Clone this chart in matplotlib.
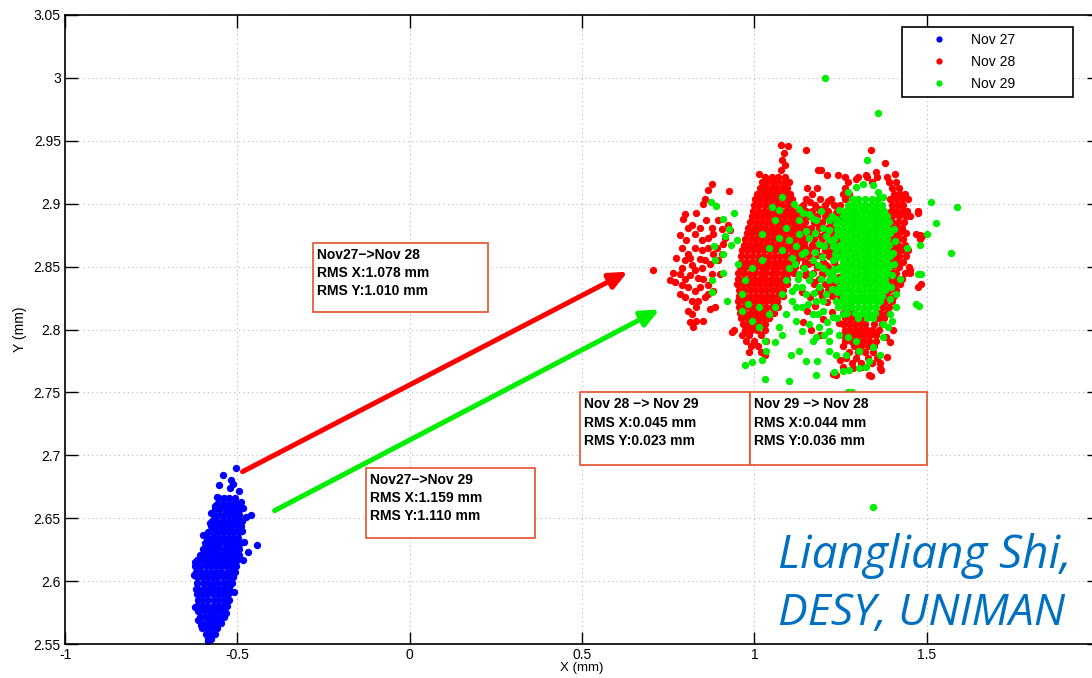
import matplotlib
matplotlib.use("Agg")
import matplotlib.pyplot as plt
from matplotlib.patches import Rectangle
from matplotlib.transforms import offset_copy
import numpy as np

plt.rcParams['font.family'] = ['Liberation Sans', 'DejaVu Sans']

# ---------------- data ----------------
x_ticks = [-1, -0.5, 0, 0.5, 1, 1.5, 2]
x_tick_labels = ['-1', '-0.5', '0', '0.5', '1', '1.5', '2']
y_ticks = [2.55, 2.6, 2.65, 2.7, 2.75, 2.8, 2.85, 2.9, 2.95, 3.0, 3.05]
y_tick_labels = ['2.55', '2.6', '2.65', '2.7', '2.75', '2.8', '2.85', '2.9', '2.95', '3', '3.05']
series_labels = ['Nov 27', 'Nov 28', 'Nov 29']
series_colors = ['#0000ff', '#ff0000', '#00ee00']

# Nov 27 : dense core as rows (y, [x...]) plus scattered points
blue_rows = [
    (2.554, [-0.585, -0.576]),
    (2.558, [-0.590, -0.577, -0.566]),
    (2.5625, [-0.603, -0.588, -0.573, -0.560]),
    (2.567, [-0.604, -0.589, -0.574, -0.559, -0.547]),
    (2.5715, [-0.609, -0.594, -0.579, -0.564, -0.549, -0.540]),
    (2.576, [-0.613, -0.598, -0.583, -0.568, -0.553, -0.538]),
    (2.5805, [-0.617, -0.602, -0.587, -0.572, -0.557, -0.543, -0.530]),
    (2.585, [-0.614, -0.599, -0.584, -0.569, -0.554, -0.539, -0.525]),
    (2.5895, [-0.617, -0.602, -0.587, -0.572, -0.557, -0.542, -0.527]),
    (2.594, [-0.613, -0.598, -0.583, -0.568, -0.553, -0.538, -0.523]),
    (2.5985, [-0.616, -0.601, -0.586, -0.571, -0.556, -0.541, -0.527, -0.515]),
    (2.603, [-0.618, -0.603, -0.588, -0.573, -0.558, -0.543, -0.528, -0.513]),
    (2.6075, [-0.621, -0.606, -0.591, -0.576, -0.561, -0.546, -0.531, -0.517, -0.506]),
    (2.612, [-0.622, -0.607, -0.592, -0.577, -0.562, -0.547, -0.532, -0.517, -0.503]),
    (2.6165, [-0.616, -0.601, -0.586, -0.571, -0.556, -0.541, -0.526, -0.512, -0.500]),
    (2.621, [-0.608, -0.593, -0.578, -0.563, -0.548, -0.533, -0.518, -0.504, -0.495]),
    (2.6255, [-0.600, -0.585, -0.570, -0.555, -0.540, -0.525, -0.510, -0.496]),
    (2.630, [-0.594, -0.579, -0.564, -0.549, -0.534, -0.519, -0.504, -0.491]),
    (2.6345, [-0.588, -0.573, -0.558, -0.543, -0.528, -0.513, -0.499]),
    (2.639, [-0.584, -0.569, -0.554, -0.539, -0.524, -0.509, -0.494]),
    (2.6435, [-0.577, -0.562, -0.547, -0.532, -0.517, -0.502, -0.489]),
    (2.648, [-0.573, -0.558, -0.543, -0.528, -0.513, -0.499, -0.487]),
    (2.6525, [-0.569, -0.554, -0.539, -0.524, -0.509, -0.494]),
    (2.657, [-0.564, -0.549, -0.534, -0.519, -0.504, -0.491]),
    (2.6615, [-0.558, -0.543, -0.528, -0.513, -0.498]),
    (2.666, [-0.553, -0.538, -0.523, -0.508]),
]
blue_points = [
    (-0.505, 2.6897), (-0.542, 2.684), (-0.517, 2.6805), (-0.513, 2.677), (-0.552, 2.676),
    (-0.522, 2.674), (-0.495, 2.672), (-0.559, 2.667), (-0.488, 2.663), (-0.484, 2.658),
    (-0.459, 2.6526), (-0.474, 2.651), (-0.575, 2.654), (-0.600, 2.6367), (-0.443, 2.629),
    (-0.469, 2.6235), (-0.484, 2.6165), (-0.624, 2.615), (-0.627, 2.605), (-0.513, 2.6089),
    (-0.522, 2.597), (-0.619, 2.594), (-0.624, 2.5798), (-0.542, 2.5798), (-0.532, 2.5745),
    (-0.614, 2.5692), (-0.549, 2.5692), (-0.605, 2.5652), (-0.575, 2.564), (-0.580, 2.5573),
    (-0.585, 2.552), (-0.566, 2.660), (-0.580, 2.646), (-0.592, 2.628), (-0.487, 2.640),
    (-0.481, 2.631), (-0.511, 2.591), (-0.530, 2.584),
]

# Nov 28
red_rows = [
    (2.9215, [1.030, 1.050, 1.070, 1.090, 1.262, 1.300, 1.326, 1.356, 1.385]),
    (2.917, [1.022, 1.038, 1.054, 1.070, 1.086, 1.102, 1.272, 1.340, 1.392, 1.410]),
    (2.9125, [1.015, 1.031, 1.047, 1.063, 1.079, 1.095, 1.154, 1.183, 1.262, 1.400, 1.420]),
    (2.908, [1.008, 1.024, 1.040, 1.056, 1.072, 1.088, 1.104, 1.166, 1.258, 1.275, 1.405, 1.422, 1.436]),
    (2.9035, [1.002, 1.018, 1.034, 1.050, 1.066, 1.082, 1.098, 1.110, 1.150, 1.190, 1.222, 1.262,
              1.395, 1.412, 1.428, 1.446]),
    (2.899, [0.998, 1.014, 1.030, 1.046, 1.062, 1.078, 1.094, 1.110, 1.140, 1.175, 1.205, 1.230,
             1.250, 1.400, 1.416, 1.432]),
    (2.8945, [0.995, 1.011, 1.027, 1.043, 1.059, 1.075, 1.091, 1.107, 1.123, 1.150, 1.166, 1.198,
              1.214, 1.240, 1.396, 1.412, 1.428, 1.444, 1.476]),
    (2.890, [0.993, 1.009, 1.025, 1.041, 1.057, 1.073, 1.089, 1.105, 1.121, 1.140, 1.158, 1.182,
             1.206, 1.226, 1.248, 1.398, 1.420, 1.440, 1.452]),
    (2.8855, [0.988, 1.004, 1.020, 1.036, 1.052, 1.068, 1.084, 1.100, 1.116, 1.132, 1.148, 1.172,
              1.196, 1.220, 1.244, 1.400, 1.416, 1.434]),
    (2.881, [0.983, 0.999, 1.015, 1.031, 1.047, 1.063, 1.079, 1.095, 1.111, 1.127, 1.143, 1.164,
             1.188, 1.212, 1.236, 1.396, 1.412, 1.428]),
    (2.8765, [0.978, 0.994, 1.010, 1.026, 1.042, 1.058, 1.074, 1.090, 1.106, 1.122, 1.138, 1.160,
              1.180, 1.204, 1.228, 1.250, 1.404, 1.420, 1.440]),
    (2.872, [0.974, 0.990, 1.006, 1.022, 1.038, 1.054, 1.070, 1.086, 1.102, 1.118, 1.134, 1.150,
             1.172, 1.196, 1.220, 1.244, 1.398, 1.414, 1.430, 1.480]),
    (2.8675, [0.969, 0.985, 1.001, 1.017, 1.033, 1.049, 1.065, 1.081, 1.097, 1.113, 1.129, 1.145,
              1.166, 1.188, 1.212, 1.236, 1.402, 1.418, 1.436]),
    (2.863, [0.964, 0.980, 0.996, 1.012, 1.028, 1.044, 1.060, 1.076, 1.092, 1.108, 1.124, 1.140,
             1.156, 1.180, 1.204, 1.228, 1.250, 1.396, 1.412, 1.428, 1.446]),
    (2.8585, [0.962, 0.978, 0.994, 1.010, 1.026, 1.042, 1.058, 1.074, 1.090, 1.106, 1.122, 1.138,
              1.160, 1.192, 1.218, 1.244, 1.404, 1.420, 1.440]),
    (2.854, [0.960, 0.976, 0.992, 1.008, 1.024, 1.040, 1.056, 1.072, 1.088, 1.104, 1.120, 1.146,
             1.170, 1.200, 1.230, 1.398, 1.414, 1.432]),
    (2.8495, [0.958, 0.974, 0.990, 1.006, 1.022, 1.038, 1.054, 1.070, 1.086, 1.102, 1.118, 1.140,
              1.182, 1.214, 1.242, 1.400, 1.420, 1.450]),
    (2.845, [0.954, 0.970, 0.986, 1.002, 1.018, 1.034, 1.050, 1.066, 1.082, 1.098, 1.114, 1.150,
             1.170, 1.196, 1.226, 1.396, 1.412, 1.436, 1.452]),
    (2.8405, [0.952, 0.968, 0.984, 1.000, 1.016, 1.032, 1.048, 1.064, 1.080, 1.096, 1.160, 1.188,
              1.220, 1.246, 1.392, 1.410, 1.428]),
    (2.836, [0.950, 0.966, 0.982, 0.998, 1.014, 1.030, 1.046, 1.062, 1.078, 1.094, 1.174, 1.204,
             1.236, 1.388, 1.404, 1.422, 1.485]),
    (2.8315, [0.955, 0.971, 0.987, 1.003, 1.019, 1.035, 1.051, 1.067, 1.083, 1.190, 1.214, 1.240,
              1.392, 1.410]),
    (2.827, [0.956, 0.972, 0.988, 1.004, 1.020, 1.036, 1.052, 1.068, 1.084, 1.196, 1.226, 1.250,
             1.386, 1.404]),
    (2.8225, [0.954, 0.970, 0.986, 1.002, 1.018, 1.034, 1.050, 1.066, 1.260, 1.380, 1.398]),
    (2.818, [0.955, 0.971, 0.987, 1.003, 1.019, 1.035, 1.051, 1.070, 1.262, 1.280, 1.372, 1.392]),
    (2.8135, [0.958, 0.974, 0.990, 1.006, 1.022, 1.038, 1.056, 1.258, 1.274, 1.290, 1.366, 1.384]),
    (2.809, [0.962, 0.978, 0.994, 1.010, 1.026, 1.044, 1.262, 1.278, 1.294, 1.310, 1.358, 1.376]),
    (2.8045, [0.966, 0.982, 0.998, 1.014, 1.032, 1.258, 1.274, 1.290, 1.306, 1.322, 1.346, 1.370]),
    (2.800, [0.940, 0.972, 0.990, 1.008, 1.030, 1.262, 1.278, 1.294, 1.310, 1.326, 1.342, 1.362]),
    (2.7955, [0.965, 0.985, 1.020, 1.256, 1.272, 1.288, 1.304, 1.320, 1.336, 1.354]),
    (2.791, [0.975, 1.000, 1.035, 1.262, 1.280, 1.298, 1.316, 1.334, 1.352]),
    (2.7865, [0.990, 1.012, 1.258, 1.290, 1.310, 1.330, 1.346]),
    (2.782, [0.985, 1.020, 1.275, 1.300, 1.322, 1.344]),
    (2.7775, [1.265, 1.296, 1.330, 1.356]),
    (2.773, [1.282, 1.310, 1.340, 1.365]),
]
red_points = [
    # left cluster
    (0.876, 2.916), (0.866, 2.911), (0.927, 2.910), (0.852, 2.900), (0.856, 2.904),
    (0.832, 2.893), (0.798, 2.892), (0.793, 2.888), (0.818, 2.883), (0.808, 2.881),
    (0.896, 2.887), (0.905, 2.880), (0.925, 2.883), (0.930, 2.879), (0.784, 2.875),
    (0.866, 2.873), (0.881, 2.876), (0.789, 2.865), (0.847, 2.863), (0.813, 2.857),
    (0.891, 2.865), (0.905, 2.860), (0.857, 2.855), (0.789, 2.849), (0.827, 2.847),
    (0.871, 2.852), (0.754, 2.839), (0.769, 2.838), (0.798, 2.840), (0.837, 2.841),
    (0.876, 2.844), (0.808, 2.834), (0.827, 2.831), (0.866, 2.835), (0.784, 2.828),
    (0.881, 2.831), (0.818, 2.823), (0.857, 2.826), (0.808, 2.815), (0.818, 2.812),
    (0.832, 2.807), (0.813, 2.806), (0.851, 2.807), (0.823, 2.802), (0.886, 2.818),
    (0.871, 2.816), (0.803, 2.871), (0.827, 2.876), (0.842, 2.881), (0.861, 2.887),
    (0.876, 2.881), (0.847, 2.871), (0.827, 2.865), (0.866, 2.865), (0.808, 2.860),
    (0.842, 2.856), (0.881, 2.860), (0.798, 2.855), (0.818, 2.851), (0.847, 2.849),
    (0.813, 2.843), (0.852, 2.840), (0.784, 2.844), (0.789, 2.835), (0.842, 2.834),
    (0.798, 2.826), (0.837, 2.823), (0.866, 2.828), (0.896, 2.855), (0.901, 2.844),
    (0.915, 2.873), (0.910, 2.868), (0.774, 2.857), (0.764, 2.845), (0.832, 2.818),
    # isolated
    (0.705, 2.847), (0.935, 2.798), (1.030, 2.780),
    # top
    (1.077, 2.947), (1.098, 2.946), (1.149, 2.943), (1.339, 2.943), (1.086, 2.940),
    (1.081, 2.935), (1.089, 2.931), (1.076, 2.927), (1.378, 2.932), (1.193, 2.927),
    (1.212, 2.923), (1.242, 2.923), (1.407, 2.924), (1.354, 2.925), (1.325, 2.923),
    (1.013, 2.924), (1.295, 2.920), (1.184, 2.927),
    # between the two red lobes
    (1.135, 2.897), (1.162, 2.901), (1.188, 2.896), (1.214, 2.902), (1.236, 2.893),
    (1.128, 2.884), (1.156, 2.880), (1.178, 2.885), (1.204, 2.879), (1.229, 2.884),
    (1.145, 2.870), (1.168, 2.866), (1.192, 2.874), (1.215, 2.862), (1.241, 2.869),
    (1.133, 2.858), (1.155, 2.852), (1.182, 2.859), (1.207, 2.851), (1.235, 2.856),
    (1.147, 2.843), (1.173, 2.838), (1.198, 2.844), (1.221, 2.836), (1.245, 2.842),
    (1.137, 2.830), (1.162, 2.826), (1.186, 2.831), (1.210, 2.822), (1.233, 2.829),
    (1.152, 2.815), (1.176, 2.819), (1.200, 2.808), (1.224, 2.814), (1.246, 2.805),
    (1.140, 2.806), (1.165, 2.800), (1.190, 2.796),
    # right and bottom
    (1.476, 2.893), (1.480, 2.875), (1.468, 2.876), (1.486, 2.874), (1.451, 2.847),
    (1.474, 2.834), (1.381, 2.794), (1.364, 2.769), (1.332, 2.764), (1.227, 2.765),
    (1.257, 2.770), (1.286, 2.769), (1.312, 2.770), (1.339, 2.763), (1.368, 2.768),
    (1.237, 2.764), (1.384, 2.778), (1.250, 2.776), (1.395, 2.790), (1.402, 2.800),
]

# Nov 29
green_rows = [
    (2.9035, [1.284, 1.300, 1.322, 1.340, 1.358]),
    (2.899, [1.272, 1.290, 1.306, 1.322, 1.338, 1.354, 1.370]),
    (2.8945, [1.264, 1.280, 1.296, 1.312, 1.328, 1.344, 1.360, 1.376]),
    (2.890, [1.258, 1.274, 1.290, 1.306, 1.322, 1.338, 1.354, 1.370, 1.386]),
    (2.8855, [1.254, 1.266, 1.282, 1.298, 1.314, 1.330, 1.346, 1.362, 1.378, 1.392]),
    (2.881, [1.258, 1.274, 1.290, 1.306, 1.322, 1.338, 1.354, 1.370, 1.386]),
    (2.8765, [1.250, 1.266, 1.282, 1.298, 1.314, 1.330, 1.346, 1.362, 1.378, 1.394]),
    (2.872, [1.256, 1.272, 1.288, 1.304, 1.320, 1.336, 1.352, 1.368, 1.384]),
    (2.8675, [1.248, 1.264, 1.280, 1.296, 1.312, 1.328, 1.344, 1.360, 1.376, 1.392]),
    (2.863, [1.256, 1.272, 1.288, 1.304, 1.320, 1.336, 1.352, 1.368, 1.384]),
    (2.8585, [1.250, 1.266, 1.282, 1.298, 1.314, 1.330, 1.346, 1.362, 1.378, 1.394]),
    (2.854, [1.256, 1.272, 1.288, 1.304, 1.320, 1.336, 1.352, 1.368, 1.384]),
    (2.8495, [1.250, 1.266, 1.282, 1.298, 1.314, 1.330, 1.346, 1.362, 1.378, 1.392]),
    (2.845, [1.256, 1.272, 1.288, 1.304, 1.320, 1.336, 1.352, 1.368, 1.384]),
    (2.8405, [1.250, 1.266, 1.282, 1.298, 1.314, 1.330, 1.346, 1.362, 1.378]),
    (2.836, [1.256, 1.272, 1.288, 1.304, 1.320, 1.336, 1.352, 1.368, 1.382]),
    (2.8315, [1.252, 1.268, 1.284, 1.300, 1.316, 1.332, 1.348, 1.364, 1.378]),
    (2.827, [1.258, 1.274, 1.290, 1.306, 1.322, 1.338, 1.354, 1.370]),
    (2.8225, [1.254, 1.270, 1.286, 1.302, 1.318, 1.334, 1.350, 1.366]),
    (2.818, [1.262, 1.280, 1.300, 1.318, 1.336, 1.354]),
    (2.8135, [1.270, 1.292, 1.312, 1.330, 1.350]),
    (2.809, [1.300, 1.326, 1.344]),
]
green_points = [
    # mixed with the Nov 28 cloud
    (1.115, 2.900), (1.130, 2.896), (1.159, 2.892), (1.178, 2.887), (1.198, 2.881),
    (1.217, 2.887), (1.247, 2.895), (1.130, 2.887), (1.091, 2.881), (1.071, 2.873),
    (1.100, 2.871), (1.130, 2.876), (1.159, 2.873), (1.188, 2.868), (1.217, 2.871),
    (1.237, 2.863), (1.081, 2.863), (1.110, 2.857), (1.139, 2.860), (1.169, 2.855),
    (1.198, 2.849), (1.227, 2.855), (1.100, 2.849), (1.130, 2.844), (1.159, 2.839),
    (1.188, 2.834), (1.217, 2.839), (1.247, 2.834), (1.091, 2.839), (1.120, 2.834),
    (1.149, 2.828), (1.178, 2.823), (1.208, 2.828), (1.237, 2.823), (1.081, 2.828),
    (1.110, 2.823), (1.139, 2.818), (1.169, 2.812), (1.198, 2.815), (1.227, 2.810),
    (1.256, 2.812), (1.061, 2.818), (1.091, 2.812), (1.120, 2.807), (1.159, 2.804),
    (1.188, 2.802), (1.217, 2.799), (1.247, 2.796), (1.271, 2.794), (1.295, 2.791),
    (1.042, 2.812), (1.013, 2.818), (0.983, 2.820), (0.964, 2.828), (0.974, 2.839),
    (0.993, 2.849), (1.022, 2.855), (1.042, 2.865), (1.022, 2.876), (1.061, 2.887),
    (1.052, 2.897), (1.071, 2.895), (1.081, 2.905), (0.964, 2.815), (0.993, 2.807),
    (1.013, 2.802), (1.032, 2.791), (1.071, 2.802), (1.139, 2.799), (1.178, 2.794),
    (1.217, 2.791), (1.266, 2.780), (1.305, 2.783), (1.344, 2.786), (1.373, 2.804),
    (1.393, 2.812), (1.412, 2.818),
    (1.142, 2.893), (1.168, 2.889), (1.194, 2.894), (1.226, 2.890), (1.240, 2.880),
    (1.150, 2.878), (1.175, 2.877), (1.207, 2.874), (1.230, 2.872), (1.120, 2.866),
    (1.146, 2.862), (1.177, 2.862), (1.203, 2.866), (1.233, 2.860), (1.118, 2.852),
    (1.143, 2.849), (1.185, 2.851), (1.213, 2.846), (1.240, 2.848), (1.128, 2.840),
    (1.167, 2.844), (1.192, 2.840), (1.228, 2.843), (1.108, 2.831), (1.137, 2.834),
    (1.172, 2.829), (1.199, 2.823), (1.226, 2.832), (1.244, 2.818), (1.155, 2.820),
    (1.121, 2.818), (1.186, 2.812), (1.212, 2.806), (1.240, 2.809), (1.229, 2.866),
    (1.218, 2.879), (1.238, 2.888), (1.196, 2.858),
    # widen the core
    (1.236, 2.884), (1.240, 2.875), (1.234, 2.866), (1.238, 2.857), (1.232, 2.848),
    (1.236, 2.839), (1.240, 2.830), (1.405, 2.880), (1.408, 2.870), (1.402, 2.861),
    (1.406, 2.852), (1.400, 2.843), (1.396, 2.834), (1.394, 2.824),
    # lower sparse points
    (0.974, 2.772), (0.993, 2.774), (1.022, 2.776), (1.034, 2.783), (1.061, 2.790),
    (1.081, 2.796), (1.105, 2.780), (1.130, 2.783), (1.149, 2.775), (1.169, 2.791),
    (1.183, 2.775), (1.203, 2.796), (1.217, 2.783), (1.237, 2.780), (1.232, 2.766),
    (1.256, 2.767), (1.276, 2.768), (1.303, 2.769), (1.325, 2.770), (1.334, 2.775),
    (1.364, 2.780), (1.373, 2.794), (1.398, 2.807), (1.178, 2.764), (1.032, 2.761),
    (1.283, 2.750), (1.100, 2.759), (1.271, 2.750),
    # over the left cluster
    (0.874, 2.901), (0.888, 2.898), (0.910, 2.888), (0.940, 2.893), (0.927, 2.880),
    (0.915, 2.874), (0.932, 2.867), (0.884, 2.866), (0.910, 2.860), (0.886, 2.855),
    (0.876, 2.839), (0.876, 2.830), (0.910, 2.845), (0.920, 2.823), (0.949, 2.871),
    (0.954, 2.852),
    # top and right side
    (1.271, 2.909), (1.295, 2.913), (1.315, 2.916), (1.344, 2.915), (1.359, 2.909),
    (1.373, 2.905), (1.286, 2.904), (1.327, 2.935), (1.512, 2.901), (1.588, 2.897),
    (1.527, 2.885), (1.502, 2.876), (1.572, 2.861), (1.480, 2.867), (1.479, 2.819),
    (1.485, 2.844), (1.442, 2.865), (1.422, 2.840), (1.412, 2.828), (1.388, 2.802),
    (1.474, 2.844), (1.468, 2.820),
    # far outliers
    (1.204, 3.000), (1.358, 2.972), (1.344, 2.659),
]

# shift arrows (Nov27 -> Nov28, Nov27 -> Nov29)
arrow_start = [(-0.485, 2.687), (-0.392, 2.656)]
arrow_end = [(0.633, 2.846), (0.725, 2.816)]
arrow_colors = ['#ff0000', '#00ee00']

# RMS text boxes: (x0, x1, y0, y1) in data units and their text
box_extent = [(-0.281, 0.226, 2.814, 2.869), (-0.128, 0.363, 2.634, 2.690),
              (0.493, 0.987, 2.692, 2.750), (0.987, 1.500, 2.692, 2.750)]
box_text = ['Nov27\u2212>Nov 28\nRMS X:1.078 mm\nRMS Y:1.010 mm',
            'Nov27\u2212>Nov 29\nRMS X:1.159 mm\nRMS Y:1.110 mm',
            'Nov 28 \u2212> Nov 29\nRMS X:0.045 mm\nRMS Y:0.023 mm',
            'Nov 29 \u2212> Nov 28\nRMS X:0.044 mm\nRMS Y:0.036 mm']


def to_xy(rows, points):
    xs = [p[0] for p in points]
    ys = [p[1] for p in points]
    for y, row in rows:
        xs += row
        ys += [y] * len(row)
    return np.array(xs), np.array(ys)


fig = plt.figure(figsize=(10.92, 6.78), dpi=100)
ax = fig.add_axes([65 / 1092, 34 / 678, 1034 / 1092, 629 / 678])

series = [to_xy(blue_rows, blue_points), to_xy(red_rows, red_points),
          to_xy(green_rows, green_points)]
for (sx, sy), lab, col in zip(series, series_labels, series_colors):
    ax.plot(sx, sy, 'o', ls='none', ms=5.3, mew=0, color=col, label=lab)

for (x0, y0), (x1, y1), col in zip(arrow_start, arrow_end, arrow_colors):
    ax.annotate('', xy=(x1, y1), xytext=(x0, y0),
                arrowprops=dict(arrowstyle='-|>,head_length=0.9,head_width=0.4',
                                lw=3.6, color=col, shrinkA=0, shrinkB=0,
                                mutation_scale=12))

txt_trans = offset_copy(ax.transData, fig=fig, x=4, y=-5, units='dots')
for (x0, x1, y0, y1), t in zip(box_extent, box_text):
    ax.add_patch(Rectangle((x0, y0), x1 - x0, y1 - y0, fill=True, fc='white',
                           ec='#e4502c', lw=1.2, zorder=4))
    ax.text(x0, y1, t, transform=txt_trans, ha='left', va='top', fontsize=10,
            fontweight='bold', linespacing=1.38, zorder=5)

ax.set_xlim(-1, 2)
ax.set_ylim(2.55, 3.05)
ax.set_xticks(x_ticks)
ax.set_xticklabels(x_tick_labels)
ax.set_yticks(y_ticks)
ax.set_yticklabels(y_tick_labels)
ax.tick_params(direction='in', length=9, width=1, top=True, right=True,
               labelsize=10, pad=3)
ax.grid(True, color='#b8b8b8', linestyle=(0, (1, 3)), lw=0.8)
ax.set_axisbelow(True)
for s in ax.spines.values():
    s.set_linewidth(1.2)
ax.set_xlabel('X (mm)', fontsize=9.5, labelpad=0)
ax.set_ylabel('Y (mm)', fontsize=10, labelpad=5)

leg = ax.legend(loc='upper left', bbox_to_anchor=(902 / 1092, 580 / 678, 171 / 1092, 71 / 678),
                bbox_transform=fig.transFigure, mode='expand', borderaxespad=0,
                fontsize=10, frameon=True, fancybox=False, edgecolor='black',
                framealpha=1, handlelength=4.4, handletextpad=0.1, labelspacing=0.55,
                borderpad=0.45, numpoints=1, markerscale=0.85)
leg.get_frame().set_linewidth(1.2)

wm_font = ['Open Sans', 'Lato', 'DejaVu Sans']
fig.text(778 / 1092, 110 / 678, 'Liangliang Shi,', fontsize=33, style='italic',
         family=wm_font, color='#0070c0', ha='left', va='baseline')
fig.text(778 / 1092, 53 / 678, 'DESY, UNIMAN', fontsize=32, style='italic',
         family=wm_font, color='#0070c0', ha='left', va='baseline')

fig.savefig('out.png', dpi=100)
